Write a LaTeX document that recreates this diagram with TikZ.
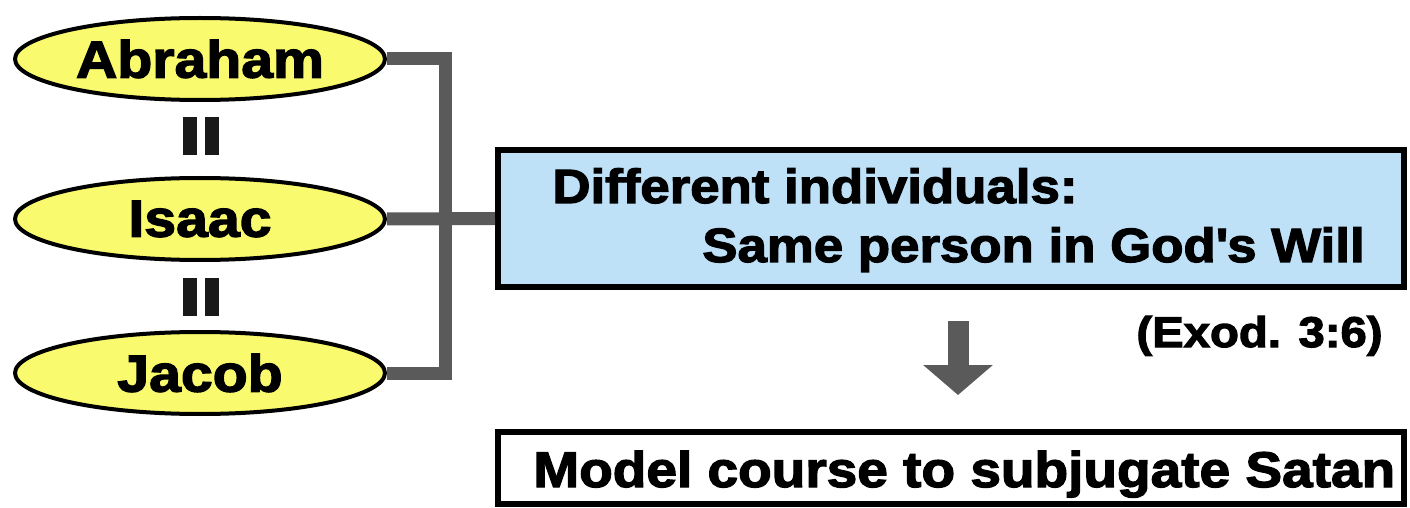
\documentclass[tikz,border=0pt]{standalone}
\usepackage{fontspec}
\setmainfont{Liberation Sans}[BoldFont={* Bold},BoldFeatures={FakeBold=2.6,FakeStretch=1.1}]
\usepackage{tikz}
\usetikzlibrary{shapes.geometric,arrows.meta}

\definecolor{nameyellow}{RGB}{250,250,110}
\definecolor{boxblue}{RGB}{190,225,248}
\definecolor{linkgray}{RGB}{90,90,90}

\tikzset{
  person/.style={ellipse, draw=black, line width=2pt, fill=nameyellow, inner sep=0pt,
    minimum width=185pt, minimum height=41pt, font=\bfseries\fontsize{26}{26}\selectfont},
  link/.style={draw=linkgray, line width=6.5pt},
  eqbar/.style={fill=black!90},
  bluebox/.style={draw=black, line width=3pt, fill=boxblue, inner sep=0pt,
    minimum width=453pt, minimum height=68.5pt},
  whitebox/.style={draw=black, line width=3pt, fill=white, inner sep=0pt,
    minimum width=453pt, minimum height=36pt},
  boxtext/.style={inner sep=0pt, font=\bfseries\fontsize{24}{24}\selectfont}
}

\begin{document}
\begin{tikzpicture}[x=0.5pt, y=-0.5pt]
      \useasboundingbox (0,0) rectangle (1410,508);
      % the three patriarchs
      \node[person] (abr) at (200,59) {Abraham};
      \node[person] (isa) at (200,219) {Isaac};
      \node[person] (jac) at (200,373) {Jacob};
      \foreach \y in {136,297}
        {\fill[eqbar] (183,\y-19) rectangle ++(14,38);
         \fill[eqbar] (205,\y-19) rectangle ++(14,38);}
      % right hand boxes
      \node[bluebox] (diff) at (951,218.5) {};
      \node[boxtext, anchor=base west] (diffa) at (552,203) {Different individuals:};
      \node[boxtext, anchor=base east] (diffb) at (1365,262) {Same person in God\textquotesingle s Will};
      \node[boxtext, anchor=base east, font=\bfseries\fontsize{21.5}{22}\selectfont] (exod) at (1383,347) {(Exod. 3:6)};
      \node[whitebox] (model) at (951,468) {};
      \node[boxtext, anchor=base west, font=\bfseries\fontsize{25}{25}\selectfont] (modelt) at (533,487) {Model course to subjugate Satan};
      % connectors
      \coordinate (spine) at (445,0);
      \draw[link] (abr.east) -| (spine |- jac.east) -- (jac.east);
      \draw[link] (isa.east) -- (diff.west);
      \coordinate (arrtop) at (958,321);
      \coordinate (arrtip) at (958,395);
      \draw[draw=linkgray, line width=10.5pt, -{Triangle[width=34pt,length=15pt]}] (arrtop) -- (arrtip);
\end{tikzpicture}
\end{document}
